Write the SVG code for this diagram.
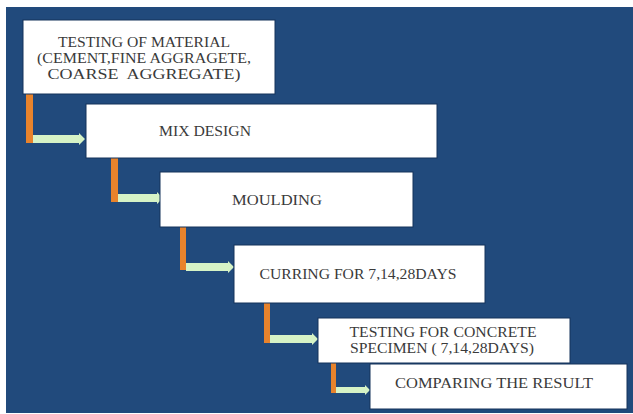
<svg xmlns="http://www.w3.org/2000/svg" width="633" height="414" viewBox="0 0 633 414">
<style>
.box{fill:#ffffff;stroke:#15325a;stroke-width:1}
.t{font-family:"Liberation Serif","Times New Roman",serif;font-size:14px;fill:#3a3a3a}
.v{fill:#e8832c}
.h{fill:#d6f3c6}
</style>
<rect x="0" y="0" width="633" height="414" fill="#ffffff"/>
<rect x="6" y="7" width="627" height="406" fill="#214a7c"/>
<g id="connectors">
<rect class="v" x="26" y="94" width="7" height="49"/>
<path class="h" d="M33 135 H79 V133 L85 139 L79 145 V143 H33 Z"/>
<rect class="v" x="111" y="157" width="7" height="45"/>
<path class="h" d="M118 194 H157 V192 L163 198 L157 204 V202 H118 Z"/>
<rect class="v" x="180" y="227" width="6" height="43"/>
<path class="h" d="M186 263 H228 V261 L234 267 L228 273 V271 H186 Z"/>
<rect class="v" x="264" y="303" width="6" height="40"/>
<path class="h" d="M270 335 H312 V333 L318 339 L312 345 V343 H270 Z"/>
<rect class="v" x="331" y="363" width="5" height="30"/>
<path class="h" d="M336 387 H365 V385 L370 390 L365 395 V393 H336 Z"/>
</g>
<g id="n1">
<rect class="box" x="23" y="20" width="252" height="74"/>
<text class="t" x="144" y="47" text-anchor="middle" textLength="172" lengthAdjust="spacingAndGlyphs">TESTING OF MATERIAL</text>
<text class="t" x="144" y="63" text-anchor="middle" textLength="214" lengthAdjust="spacingAndGlyphs">(CEMENT,FINE AGGRAGETE,</text>
<text class="t" x="144" y="79" text-anchor="middle" textLength="193" lengthAdjust="spacingAndGlyphs" xml:space="preserve">COARSE  AGGREGATE)</text>
</g>
<g id="n2">
<rect class="box" x="86" y="104" width="351" height="54"/>
<text class="t" x="205" y="136" text-anchor="middle" textLength="92" lengthAdjust="spacingAndGlyphs">MIX DESIGN</text>
</g>
<g id="n3">
<rect class="box" x="160" y="172" width="253" height="55"/>
<text class="t" x="277" y="205" text-anchor="middle" textLength="90" lengthAdjust="spacingAndGlyphs">MOULDING</text>
</g>
<g id="n4">
<rect class="box" x="234" y="245" width="251" height="58"/>
<text class="t" x="358" y="279" text-anchor="middle" textLength="197" lengthAdjust="spacingAndGlyphs">CURRING FOR 7,14,28DAYS</text>
</g>
<g id="n5">
<rect class="box" x="318" y="318" width="252" height="45"/>
<text class="t" x="443" y="337" text-anchor="middle" textLength="187" lengthAdjust="spacingAndGlyphs">TESTING FOR CONCRETE</text>
<text class="t" x="442" y="353" text-anchor="middle" textLength="184" lengthAdjust="spacingAndGlyphs">SPECIMEN ( 7,14,28DAYS)</text>
</g>
<g id="n6">
<rect class="box" x="370" y="364" width="257" height="45"/>
<text class="t" x="494" y="388" text-anchor="middle" textLength="198" lengthAdjust="spacingAndGlyphs">COMPARING THE RESULT</text>
</g>
</svg>
